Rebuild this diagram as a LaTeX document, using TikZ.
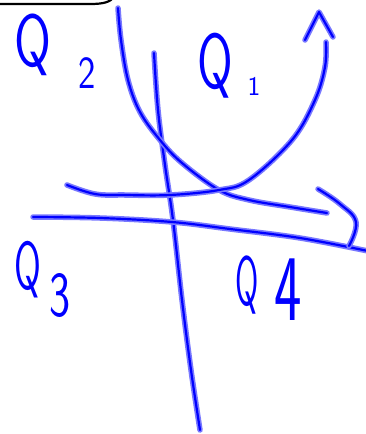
\documentclass[tikz,border=0pt]{standalone}
\definecolor{inkcore}{RGB}{0,0,255}
\definecolor{inkhalo}{RGB}{120,120,255}
\tikzset{
  pen/.style={draw=inkcore, line width=2.2pt, line cap=round, line join=round,
    preaction={draw=inkhalo, line width=5.5pt, line cap=round, line join=round}},
  hand/.style={text=inkcore, font=\sffamily, inner sep=0pt, outer sep=0pt},
}
\begin{document}
\begin{tikzpicture}[x=1pt, y=-1pt]
\useasboundingbox (0,0) rectangle (365,434);
% top-left black box corner
\draw[black, line width=2.2pt] (-3,4) -- (90,4) .. controls (104,4) and (110,2) .. (114,-3);
% axes
\coordinate (vtop) at (154,53);
\coordinate (vbot) at (200,430);
\coordinate (hleft) at (33,217);
\coordinate (hright) at (368,251);
\draw[pen] plot[smooth, tension=0.6] coordinates {(vtop) (158,110) (165,165) (173,220) (182,300) (191,370) (vbot)};
\draw[pen] plot[smooth, tension=0.6] coordinates {(hleft) (100,218) (172,222) (230,229) (300,238) (hright)};
% curve A (down-right to right arrow)
\coordinate (astart) at (118,8);
\coordinate (aend) at (327,213);
\draw[pen] plot[smooth, tension=0.6] coordinates {(astart) (121,40) (128,80) (140,112) (160,140) (182,163) (219,190) (249,200) (290,207) (aend)};
% right arrow hook
\draw[pen] plot[smooth, tension=0.7] coordinates {(318,189) (340,204) (356,222) (349,246)};
% curve B (up to top arrow)
\coordinate (bstart) at (67,185);
\coordinate (bend) at (326,42);
\draw[pen] plot[smooth, tension=0.6] coordinates {(bstart) (95,194) (125,195) (170,195) (219,190) (249,180) (292,140) (315,100) (325,67) (bend)};
% top arrowhead
\draw[pen] (305,40) -- (319,12) -- (333,37);
% labels
\node[hand, font=\sffamily\fontsize{74}{74}\selectfont, xscale=0.72] (q2) at (33,45) {Q};
\node[hand, font=\sffamily\fontsize{46}{46}\selectfont, xscale=0.8] (q2s) at (87,73) {2};
\node[hand, font=\sffamily\fontsize{78}{78}\selectfont, xscale=0.66] (q1) at (215,66) {Q};
\node[hand, font=\sffamily\fontsize{27}{27}\selectfont] (q1s) at (254,86) {1};
\node[hand, font=\sffamily\fontsize{68}{68}\selectfont, xscale=0.57] (q3) at (28,270) {Q};
\node[hand, font=\sffamily\fontsize{64}{64}\selectfont, xscale=0.7] (q3s) at (60,296) {3};
\node[hand, font=\sffamily\fontsize{70}{70}\selectfont, xscale=0.48] (q4) at (247,285) {Q};
\node[hand, font=\sffamily\fontsize{94}{94}\selectfont, xscale=0.62] (q4n) at (288,290) {4};
\end{tikzpicture}
\end{document}
